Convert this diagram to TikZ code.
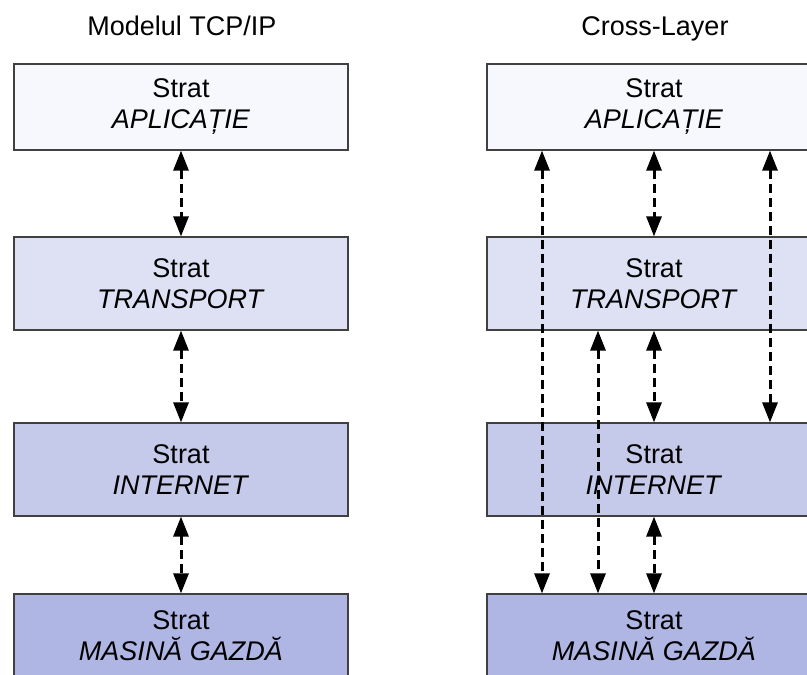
\documentclass[tikz,border=0pt]{standalone}
\usepackage{fontspec}
\setmainfont{Liberation Sans}
\usetikzlibrary{arrows.meta}
\definecolor{boxline}{HTML}{404040}
\definecolor{layerA}{HTML}{F7F8FD}
\definecolor{layerB}{HTML}{DEE1F4}
\definecolor{layerC}{HTML}{C5C9EA}
\definecolor{layerD}{HTML}{AFB6E4}
\begin{document}
\begin{tikzpicture}[x=1pt,y=-1pt,
  layer/.style={draw=boxline, line width=1.2pt, minimum width=334pt,
    inner sep=0pt, align=center, text=black,
    font=\fontsize{27}{31}\selectfont},
  heading/.style={anchor=base, inner sep=0pt, font=\fontsize{27}{31}\selectfont},
  link/.style={line width=3pt, dash pattern=on 9pt off 5pt,
    {Triangle[length=20pt,width=15pt]}-{Triangle[length=20pt,width=15pt]}}]
  \useasboundingbox (0,0) rectangle (807,675);
  \clip (0,0) rectangle (807,675);
  \fill[white] (0,0) rectangle (807,675);

  % column headings
  \node[heading] (h1) at (182,35) {Modelul TCP/IP};
  \node[heading] (h2) at (655,35) {Cross-Layer};

  % TCP/IP stack
  \node[layer, fill=layerA, minimum height=86pt] (a1) at (181,107)   {Strat\\\textit{APLICAȚIE}};
  \node[layer, fill=layerB, minimum height=93pt] (t1) at (181,283.5) {Strat\\\textit{TRANSPORT}};
  \node[layer, fill=layerC, minimum height=93pt] (i1) at (181,469.5) {Strat\\\textit{INTERNET}};
  \node[layer, fill=layerD, minimum height=84pt] (m1) at (181,636)   {Strat\\\textit{MASINĂ GAZDĂ}};

  % cross-layer stack
  \node[layer, fill=layerA, minimum height=86pt] (a2) at (654,107)   {Strat\\\textit{APLICAȚIE}};
  \node[layer, fill=layerB, minimum height=93pt] (t2) at (654,283.5) {Strat\\\textit{TRANSPORT}};
  \node[layer, fill=layerC, minimum height=93pt] (i2) at (654,469.5) {Strat\\\textit{INTERNET}};
  \node[layer, fill=layerD, minimum height=84pt] (m2) at (654,636)   {Strat\\\textit{MASINĂ GAZDĂ}};

  % vertical tracks of the skipping links
  \coordinate (xa) at (542,0);
  \coordinate (xt) at (598,0);
  \coordinate (xi) at (770,0);

  % links between adjacent layers
  \draw[link] (a1.south) -- (t1.north);
  \draw[link] (t1.south) -- (i1.north);
  \draw[link] (i1.south) -- (m1.north);
  \draw[link] (a2.south) -- (t2.north);
  \draw[link] (t2.south) -- (i2.north);
  \draw[link] (i2.south) -- (m2.north);

  % links that skip layers
  \draw[link] (a2.south -| xa) -- (m2.north -| xa);
  \draw[link] (t2.south -| xt) -- (m2.north -| xt);
  \draw[link] (a2.south -| xi) -- (i2.north -| xi);
\end{tikzpicture}
\end{document}
